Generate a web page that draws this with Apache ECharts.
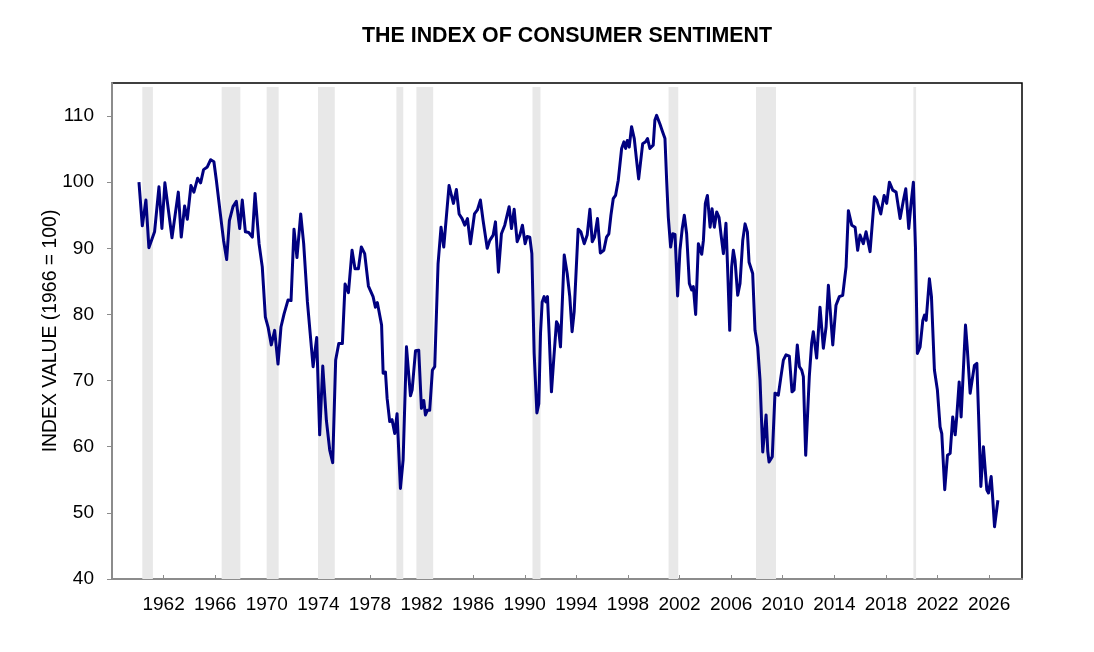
<!DOCTYPE html>
<html>
<head>
<meta charset="utf-8">
<title>The Index of Consumer Sentiment</title>
<script src="https://cdn.jsdelivr.net/npm/echarts@6/dist/echarts.min.js"></script>
<style>
  html, body { margin: 0; padding: 0; background: #fff; }
  #sentiment { width: 1094px; height: 652px; }
</style>
</head>
<body>
<div id="sentiment"></div>
<script>
// decimal years and index readings (1966 = 100)
var years = [
  1960.09, 1960.35, 1960.63, 1960.86, 1961.3, 1961.64, 1961.87, 1962.1, 1962.65, 1963.14,
  1963.37, 1963.63, 1963.84, 1964.12, 1964.35, 1964.64, 1964.87, 1965.1, 1965.39, 1965.65,
  1965.9, 1966.09, 1966.4, 1966.65, 1966.89, 1967.1, 1967.38, 1967.64, 1967.9, 1968.1,
  1968.34, 1968.6, 1968.88, 1969.09, 1969.4, 1969.65, 1969.89, 1970.1, 1970.35, 1970.61,
  1970.87, 1971.1, 1971.34, 1971.65, 1971.88, 1972.11, 1972.34, 1972.63, 1972.86, 1973.15,
  1973.59, 1973.87, 1974.1, 1974.34, 1974.62, 1974.88, 1975.11, 1975.34, 1975.58, 1975.86,
  1976.07, 1976.33, 1976.61, 1976.84, 1977.1, 1977.33, 1977.59, 1977.88, 1978.24, 1978.42,
  1978.57, 1978.9, 1979.02, 1979.2, 1979.33, 1979.53, 1979.71, 1979.92, 1980.1, 1980.36,
  1980.57, 1980.83, 1981.14, 1981.27, 1981.53, 1981.78, 1981.99, 1982.17, 1982.3, 1982.45,
  1982.63, 1982.84, 1983.02, 1983.28, 1983.51, 1983.72, 1983.85, 1984.13, 1984.47, 1984.7,
  1984.91, 1985.14, 1985.35, 1985.56, 1985.79, 1986.1, 1986.33, 1986.56, 1986.77, 1987.09,
  1987.29, 1987.55, 1987.73, 1987.96, 1988.19, 1988.45, 1988.79, 1988.97, 1989.18, 1989.41,
  1989.62, 1989.82, 1990.03, 1990.19, 1990.39, 1990.55, 1990.73, 1990.94, 1991.09, 1991.22,
  1991.35, 1991.5, 1991.63, 1991.76, 1991.89, 1992.07, 1992.26, 1992.46, 1992.59, 1992.77,
  1993.06, 1993.29, 1993.49, 1993.67, 1993.83, 1994.14, 1994.35, 1994.61, 1994.84, 1995.05,
  1995.23, 1995.41, 1995.64, 1995.86, 1996.13, 1996.34, 1996.52, 1996.68, 1996.86, 1997.04,
  1997.25, 1997.51, 1997.69, 1997.82, 1997.95, 1998.1, 1998.28, 1998.49, 1998.67, 1998.83,
  1998.98, 1999.14, 1999.37, 1999.52, 1999.7, 1999.96, 2000.09, 2000.22, 2000.48, 2000.69,
  2000.87, 2001.0, 2001.13, 2001.31, 2001.47, 2001.65, 2001.85, 2002.03, 2002.21, 2002.37,
  2002.55, 2002.76, 2002.94, 2003.07, 2003.25, 2003.46, 2003.59, 2003.72, 2003.85, 2004.0,
  2004.16, 2004.37, 2004.52, 2004.7, 2004.88, 2005.06, 2005.22, 2005.4, 2005.6, 2005.76,
  2005.89, 2006.04, 2006.17, 2006.3, 2006.51, 2006.69, 2006.9, 2007.08, 2007.26, 2007.39,
  2007.52, 2007.67, 2007.85, 2008.06, 2008.24, 2008.45, 2008.58, 2008.71, 2008.84, 2008.94,
  2009.19, 2009.4, 2009.66, 2009.84, 2010.05, 2010.26, 2010.51, 2010.72, 2010.88, 2011.13,
  2011.29, 2011.47, 2011.6, 2011.78, 2012.06, 2012.24, 2012.37, 2012.63, 2012.89, 2013.15,
  2013.36, 2013.54, 2013.88, 2014.13, 2014.39, 2014.65, 2014.91, 2015.09, 2015.35, 2015.61,
  2015.81, 2015.99, 2016.25, 2016.46, 2016.77, 2017.11, 2017.29, 2017.6, 2017.86, 2018.06,
  2018.27, 2018.53, 2018.79, 2019.1, 2019.36, 2019.54, 2019.77, 2019.95, 2020.13, 2020.29,
  2020.44, 2020.65, 2020.86, 2020.99, 2021.12, 2021.37, 2021.53, 2021.76, 2021.99, 2022.2,
  2022.33, 2022.56, 2022.77, 2022.98, 2023.18, 2023.37, 2023.49, 2023.68, 2023.83, 2023.96,
  2024.17, 2024.3, 2024.53, 2024.66, 2024.86, 2025.05, 2025.18, 2025.36, 2025.56, 2025.82,
  2025.95, 2026.16, 2026.29, 2026.42, 2026.68
];
var sentiment = [
  100.0, 93.4, 97.3, 90.1, 92.5, 99.3, 93.0, 99.9, 91.6, 98.5,
  91.7, 96.4, 94.4, 99.5, 98.5, 100.6, 99.9, 101.9, 102.3, 103.4,
  103.1, 100.3, 95.2, 91.2, 88.3, 94.2, 96.3, 97.1, 93.0, 97.3,
  92.5, 92.4, 91.7, 98.3, 90.7, 87.2, 79.6, 78.1, 75.4, 77.6,
  72.5, 78.1, 80.1, 82.2, 82.1, 92.9, 88.6, 95.2, 90.7, 81.9,
  72.1, 76.5, 61.8, 72.2, 64.0, 59.5, 57.6, 73.1, 75.6, 75.6,
  84.6, 83.3, 89.7, 86.9, 86.9, 90.2, 89.2, 84.3, 82.7, 81.1,
  81.8, 78.4, 71.1, 71.3, 67.3, 63.8, 64.1, 62.0, 65.0, 53.7,
  58.0, 75.1, 67.7, 68.6, 74.5, 74.6, 65.8, 67.0, 64.8, 65.5,
  65.5, 71.6, 72.1, 87.7, 93.2, 90.2, 90.2, 99.5, 96.8, 98.9,
  95.2, 94.5, 93.5, 94.5, 90.7, 95.2, 95.8, 97.3, 94.2, 90.0,
  91.2, 92.0, 94.0, 86.4, 92.2, 93.5, 96.3, 93.0, 95.9, 91.0,
  92.0, 93.5, 90.7, 91.8, 91.7, 89.2, 74.1, 65.1, 66.5, 77.1,
  81.9, 82.7, 81.9, 82.7, 77.1, 68.3, 73.6, 78.9, 78.4, 75.1,
  89.0, 86.2, 82.7, 77.4, 80.4, 92.9, 92.5, 90.7, 92.0, 95.9,
  91.0, 91.7, 94.5, 89.3, 89.7, 91.7, 92.2, 95.0, 97.5, 98.0,
  100.3, 105.1, 106.1, 105.1, 106.3, 105.3, 108.4, 106.6, 103.3, 100.5,
  100.3, 105.8, 106.1, 106.6, 105.1, 105.6, 109.4, 110.1, 108.8, 107.6,
  106.6, 100.3, 94.7, 90.2, 92.2, 92.1, 82.8, 89.7, 93.0, 95.0,
  92.2, 84.7, 83.7, 84.2, 80.0, 90.7, 90.8, 89.1, 91.2, 96.8,
  98.0, 93.2, 96.0, 93.2, 95.5, 94.7, 92.0, 89.2, 93.8, 85.2,
  77.6, 87.2, 89.7, 88.2, 82.9, 84.7, 91.2, 93.7, 92.5, 87.9,
  87.9, 86.2, 77.6, 75.1, 70.1, 59.2, 59.0, 64.8, 59.3, 57.7,
  58.5, 68.1, 67.8, 70.3, 73.1, 73.9, 73.7, 68.3, 68.6, 75.4,
  72.1, 71.6, 70.6, 58.7, 70.6, 75.6, 77.4, 73.4, 81.1, 74.9,
  78.1, 84.4, 75.4, 81.4, 82.7, 82.9, 87.2, 95.7, 93.5, 93.2,
  89.7, 92.0, 90.7, 92.5, 89.5, 97.8, 97.3, 95.2, 98.0, 96.8,
  100.0, 98.8, 98.5, 94.5, 97.3, 99.0, 93.0, 96.8, 100.0, 90.2,
  74.1, 75.1, 79.1, 79.9, 79.1, 85.4, 82.7, 71.6, 68.6, 63.0,
  62.0, 53.5, 58.7, 59.0, 64.5, 61.8, 64.5, 69.8, 64.5, 64.3,
  78.4, 75.1, 68.1, 67.8, 72.3, 72.6, 65.0, 54.0, 60.0, 53.5,
  53.0, 55.5, 51.9, 47.9, 51.9
];
var yearTicks = [1962, 1966, 1970, 1974, 1978, 1982, 1986, 1990, 1994, 1998, 2002, 2006, 2010, 2014, 2018, 2022, 2026];
var valueTicks = [40, 50, 60, 70, 80, 90, 100, 110];
// shaded recession periods, start and end in decimal years
var recessions = [
  [1960.35, 1961.17], [1966.5, 1967.95], [1969.99, 1970.92], [1973.97, 1975.27],
  [1980.05, 1980.58], [1981.6, 1982.9], [1990.6, 1991.22], [2001.15, 2001.9],
  [2007.93, 2009.48], [2020.13, 2020.34]
];

function consumerSentiment() {
  'use strict'

  var points = years.map(function (y, i) {
    return [y, sentiment[i]];
  });
  var bands = recessions.map(function (r) {
    return [{ xAxis: r[0], yAxis: 40 }, { xAxis: r[1], yAxis: 114.4 }];
  });

  var chart = echarts.init(document.getElementById('sentiment'), null, { renderer: 'canvas' });

  var option = {
    animation: false,
    textStyle: { fontFamily: 'Liberation Sans, Arial, sans-serif' },
    title: {
      text: 'THE INDEX OF CONSUMER SENTIMENT',
      left: 562,
      top: 21,
      textAlign: 'center',
      textStyle: {
        fontSize: 21.4,
        fontWeight: 'bold',
        color: '#000'
      }
    },
    grid: {
      left: 112,
      right: 72,
      top: 83,
      bottom: 73,
      show: true,
      borderColor: '#000',
      borderWidth: 1.5
    },
    xAxis: {
      type: 'value',
      min: 1958,
      max: 2028.55,
      splitLine: { show: false },
      axisLine: { lineStyle: { color: '#8c8c8c', width: 2 } },
      axisTick: {
        inside: true,
        length: 4,
        customValues: yearTicks,
        lineStyle: { color: '#8c8c8c', width: 1 }
      },
      axisLabel: {
        customValues: yearTicks,
        margin: 16,
        fontSize: 19,
        color: '#000',
        formatter: function (v) {
          return String(v);
        }
      }
    },
    yAxis: {
      type: 'value',
      min: 40,
      max: 115,
      name: 'INDEX VALUE (1966 = 100)',
      nameLocation: 'middle',
      nameGap: 52,
      nameMoveOverlap: false,
      nameTextStyle: { fontSize: 19.4, color: '#000' },
      splitLine: { show: false },
      axisLine: { show: true, lineStyle: { color: '#8c8c8c', width: 2 } },
      axisTick: {
        show: true,
        length: 5,
        customValues: valueTicks,
        lineStyle: { color: '#8c8c8c', width: 1 }
      },
      axisLabel: {
        customValues: valueTicks,
        margin: 18,
        fontSize: 19,
        color: '#000'
      }
    },
    series: [
      {
        name: 'Index of Consumer Sentiment',
        type: 'line',
        data: points,
        showSymbol: false,
        lineStyle: { color: '#000080', width: 3, join: 'round' },
        markArea: {
          silent: true,
          itemStyle: { color: '#e8e8e8' },
          data: bands
        }
      }
    ]
  };

  chart.setOption(option);
  window.addEventListener('resize', function () {
    chart.resize();
  });
}

consumerSentiment();
</script>
</body>
</html>
